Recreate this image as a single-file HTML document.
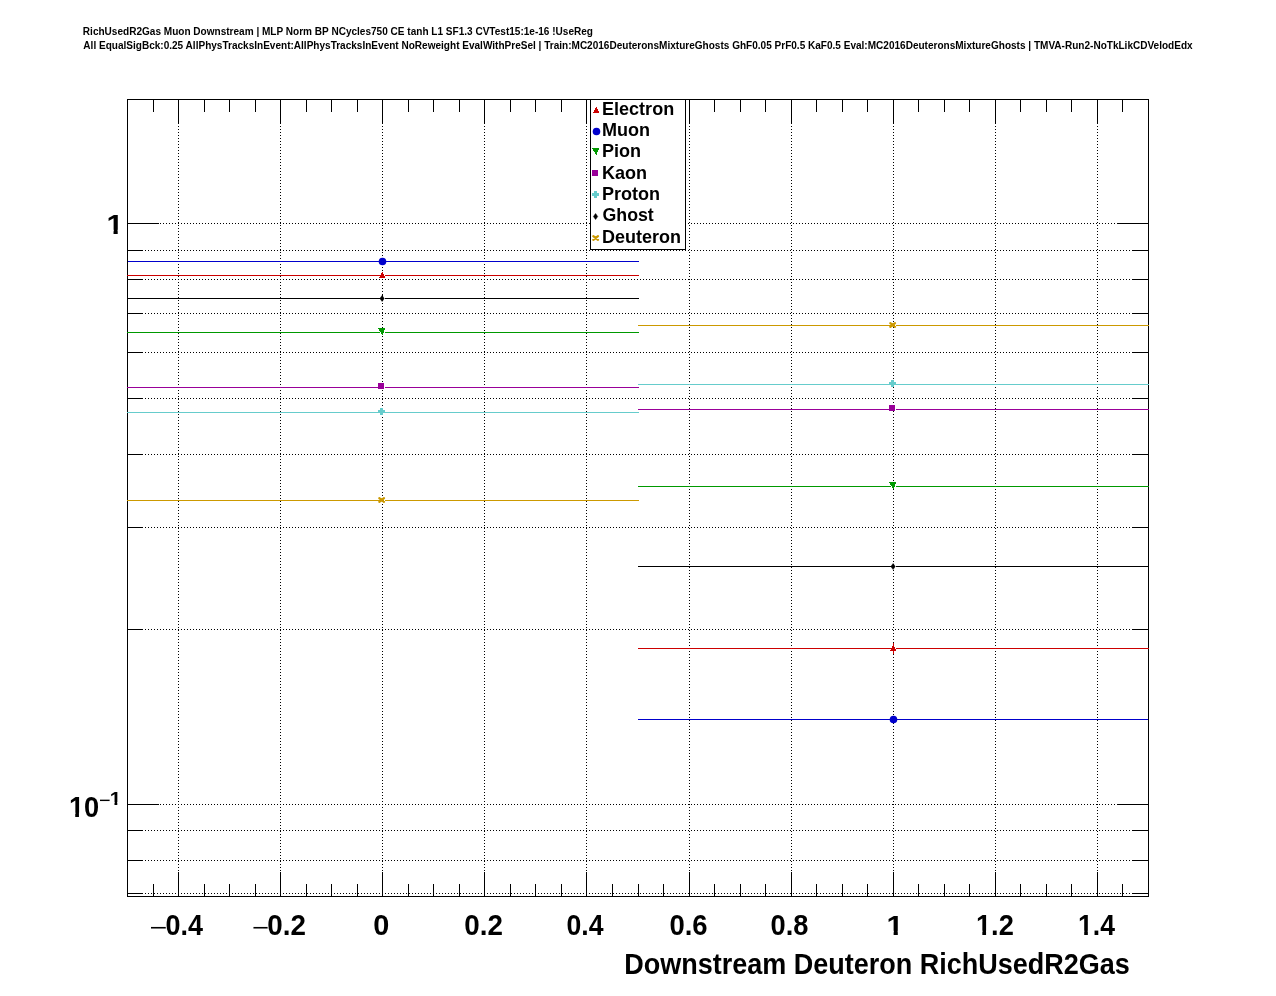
<!DOCTYPE html>
<html lang="en"><head><meta charset="utf-8"><title>RichUsedR2Gas Muon Downstream</title>
<style>html,body{margin:0;padding:0;background:#fff}body{width:1276px;height:996px;overflow:hidden}svg{display:block;will-change:transform}text{font-family:"Liberation Sans",Arial,Helvetica,sans-serif;font-weight:bold;fill:#000}</style>
</head><body>
<svg width="1276" height="996" viewBox="0 0 1276 996">
<rect width="1276" height="996" fill="#fff"/>
<g shape-rendering="crispEdges" stroke="#000" stroke-width="1" stroke-dasharray="1 2" fill="none">
<line x1="178.5" y1="99" x2="178.5" y2="897"/>
<line x1="280.5" y1="99" x2="280.5" y2="897"/>
<line x1="382.5" y1="99" x2="382.5" y2="897"/>
<line x1="484.5" y1="99" x2="484.5" y2="897"/>
<line x1="586.5" y1="99" x2="586.5" y2="897"/>
<line x1="689.5" y1="99" x2="689.5" y2="897"/>
<line x1="791.5" y1="99" x2="791.5" y2="897"/>
<line x1="893.5" y1="99" x2="893.5" y2="897"/>
<line x1="995.5" y1="99" x2="995.5" y2="897"/>
<line x1="1097.5" y1="99" x2="1097.5" y2="897"/>
<line x1="127" y1="223.5" x2="1149" y2="223.5"/>
<line x1="127" y1="250.5" x2="1149" y2="250.5"/>
<line x1="127" y1="279.5" x2="1149" y2="279.5"/>
<line x1="127" y1="313.5" x2="1149" y2="313.5"/>
<line x1="127" y1="352.5" x2="1149" y2="352.5"/>
<line x1="127" y1="398.5" x2="1149" y2="398.5"/>
<line x1="127" y1="454.5" x2="1149" y2="454.5"/>
<line x1="127" y1="527.5" x2="1149" y2="527.5"/>
<line x1="127" y1="629.5" x2="1149" y2="629.5"/>
<line x1="127" y1="804.5" x2="1149" y2="804.5"/>
<line x1="127" y1="830.5" x2="1149" y2="830.5"/>
<line x1="127" y1="860.5" x2="1149" y2="860.5"/>
<line x1="127" y1="893.5" x2="1149" y2="893.5"/>
</g>
<g shape-rendering="crispEdges" fill="#000">
<rect x="127" y="99" width="1022" height="1"/>
<rect x="127" y="896" width="1022" height="1"/>
<rect x="127" y="99" width="1" height="798"/>
<rect x="1148" y="99" width="1" height="798"/>
<rect x="153" y="99" width="1" height="13"/>
<rect x="153" y="884" width="1" height="13"/>
<rect x="178" y="99" width="1" height="25"/>
<rect x="178" y="872" width="1" height="25"/>
<rect x="204" y="99" width="1" height="13"/>
<rect x="204" y="884" width="1" height="13"/>
<rect x="229" y="99" width="1" height="13"/>
<rect x="229" y="884" width="1" height="13"/>
<rect x="255" y="99" width="1" height="13"/>
<rect x="255" y="884" width="1" height="13"/>
<rect x="280" y="99" width="1" height="25"/>
<rect x="280" y="872" width="1" height="25"/>
<rect x="306" y="99" width="1" height="13"/>
<rect x="306" y="884" width="1" height="13"/>
<rect x="331" y="99" width="1" height="13"/>
<rect x="331" y="884" width="1" height="13"/>
<rect x="357" y="99" width="1" height="13"/>
<rect x="357" y="884" width="1" height="13"/>
<rect x="382" y="99" width="1" height="25"/>
<rect x="382" y="872" width="1" height="25"/>
<rect x="408" y="99" width="1" height="13"/>
<rect x="408" y="884" width="1" height="13"/>
<rect x="433" y="99" width="1" height="13"/>
<rect x="433" y="884" width="1" height="13"/>
<rect x="459" y="99" width="1" height="13"/>
<rect x="459" y="884" width="1" height="13"/>
<rect x="484" y="99" width="1" height="25"/>
<rect x="484" y="872" width="1" height="25"/>
<rect x="510" y="99" width="1" height="13"/>
<rect x="510" y="884" width="1" height="13"/>
<rect x="535" y="99" width="1" height="13"/>
<rect x="535" y="884" width="1" height="13"/>
<rect x="561" y="99" width="1" height="13"/>
<rect x="561" y="884" width="1" height="13"/>
<rect x="586" y="99" width="1" height="25"/>
<rect x="586" y="872" width="1" height="25"/>
<rect x="612" y="99" width="1" height="13"/>
<rect x="612" y="884" width="1" height="13"/>
<rect x="638" y="99" width="1" height="13"/>
<rect x="638" y="884" width="1" height="13"/>
<rect x="663" y="99" width="1" height="13"/>
<rect x="663" y="884" width="1" height="13"/>
<rect x="689" y="99" width="1" height="25"/>
<rect x="689" y="872" width="1" height="25"/>
<rect x="714" y="99" width="1" height="13"/>
<rect x="714" y="884" width="1" height="13"/>
<rect x="740" y="99" width="1" height="13"/>
<rect x="740" y="884" width="1" height="13"/>
<rect x="765" y="99" width="1" height="13"/>
<rect x="765" y="884" width="1" height="13"/>
<rect x="791" y="99" width="1" height="25"/>
<rect x="791" y="872" width="1" height="25"/>
<rect x="816" y="99" width="1" height="13"/>
<rect x="816" y="884" width="1" height="13"/>
<rect x="842" y="99" width="1" height="13"/>
<rect x="842" y="884" width="1" height="13"/>
<rect x="867" y="99" width="1" height="13"/>
<rect x="867" y="884" width="1" height="13"/>
<rect x="893" y="99" width="1" height="25"/>
<rect x="893" y="872" width="1" height="25"/>
<rect x="918" y="99" width="1" height="13"/>
<rect x="918" y="884" width="1" height="13"/>
<rect x="944" y="99" width="1" height="13"/>
<rect x="944" y="884" width="1" height="13"/>
<rect x="969" y="99" width="1" height="13"/>
<rect x="969" y="884" width="1" height="13"/>
<rect x="995" y="99" width="1" height="25"/>
<rect x="995" y="872" width="1" height="25"/>
<rect x="1020" y="99" width="1" height="13"/>
<rect x="1020" y="884" width="1" height="13"/>
<rect x="1046" y="99" width="1" height="13"/>
<rect x="1046" y="884" width="1" height="13"/>
<rect x="1071" y="99" width="1" height="13"/>
<rect x="1071" y="884" width="1" height="13"/>
<rect x="1097" y="99" width="1" height="25"/>
<rect x="1097" y="872" width="1" height="25"/>
<rect x="1122" y="99" width="1" height="13"/>
<rect x="1122" y="884" width="1" height="13"/>
<rect x="127" y="223" width="32" height="1"/>
<rect x="1117" y="223" width="32" height="1"/>
<rect x="127" y="250" width="16" height="1"/>
<rect x="1133" y="250" width="16" height="1"/>
<rect x="127" y="279" width="16" height="1"/>
<rect x="1133" y="279" width="16" height="1"/>
<rect x="127" y="313" width="16" height="1"/>
<rect x="1133" y="313" width="16" height="1"/>
<rect x="127" y="352" width="16" height="1"/>
<rect x="1133" y="352" width="16" height="1"/>
<rect x="127" y="398" width="16" height="1"/>
<rect x="1133" y="398" width="16" height="1"/>
<rect x="127" y="454" width="16" height="1"/>
<rect x="1133" y="454" width="16" height="1"/>
<rect x="127" y="527" width="16" height="1"/>
<rect x="1133" y="527" width="16" height="1"/>
<rect x="127" y="629" width="16" height="1"/>
<rect x="1133" y="629" width="16" height="1"/>
<rect x="127" y="804" width="32" height="1"/>
<rect x="1117" y="804" width="32" height="1"/>
<rect x="127" y="830" width="16" height="1"/>
<rect x="1133" y="830" width="16" height="1"/>
<rect x="127" y="860" width="16" height="1"/>
<rect x="1133" y="860" width="16" height="1"/>
<rect x="127" y="893" width="16" height="1"/>
<rect x="1133" y="893" width="16" height="1"/>
</g>
<g>
<rect x="128" y="261" width="511" height="1" fill="#0000cc" shape-rendering="crispEdges"/>
<rect x="127" y="275" width="512" height="1" fill="#cc0000" shape-rendering="crispEdges"/>
<rect x="127" y="298" width="512" height="1" fill="#000000" shape-rendering="crispEdges"/>
<rect x="127" y="332" width="512" height="1" fill="#009900" shape-rendering="crispEdges"/>
<rect x="127" y="387" width="512" height="1" fill="#990099" shape-rendering="crispEdges"/>
<rect x="127" y="412" width="512" height="1" fill="#66cccc" shape-rendering="crispEdges"/>
<rect x="127" y="500" width="512" height="1" fill="#cc9900" shape-rendering="crispEdges"/>
<rect x="638" y="325" width="511" height="1" fill="#cc9900" shape-rendering="crispEdges"/>
<rect x="638" y="384" width="511" height="1" fill="#66cccc" shape-rendering="crispEdges"/>
<rect x="638" y="409" width="511" height="1" fill="#990099" shape-rendering="crispEdges"/>
<rect x="638" y="486" width="511" height="1" fill="#009900" shape-rendering="crispEdges"/>
<rect x="638" y="566" width="511" height="1" fill="#000000" shape-rendering="crispEdges"/>
<rect x="638" y="648" width="511" height="1" fill="#cc0000" shape-rendering="crispEdges"/>
<rect x="638" y="719" width="510" height="1" fill="#0000cc" shape-rendering="crispEdges"/>
<rect x="893" y="643" width="1" height="11" fill="#cc0000" shape-rendering="crispEdges"/>
<rect x="382" y="294" width="1" height="3" fill="#000" shape-rendering="crispEdges"/>
<circle cx="382.5" cy="261.5" r="3.8" fill="#0000cc"/>
<rect x="384" y="275" width="1" height="1" fill="#fff" shape-rendering="crispEdges"/>
<path d="M382.3 271.8L385.6 278L378.8 278Z" fill="#cc0000" shape-rendering="crispEdges"/>
<rect x="384" y="298" width="1" height="1" fill="#fff" shape-rendering="crispEdges"/>
<path d="M382.1 295.5L384.2 298.5L382.1 301.5L379.9 298.5Z" fill="#000000" stroke="#000000" stroke-width="0.5" stroke-linejoin="round"/>
<rect x="384" y="332" width="1" height="1" fill="#fff" shape-rendering="crispEdges"/>
<rect x="380" y="332" width="1" height="1" fill="#fff" shape-rendering="crispEdges"/>
<path d="M378 328L385.5 328L382.3 335.2Z" fill="#009900" shape-rendering="crispEdges"/>
<rect x="384" y="387" width="1" height="1" fill="#fff" shape-rendering="crispEdges"/>
<rect x="378" y="383" width="6" height="6" fill="#990099" shape-rendering="crispEdges"/>
<path d="M380 408h3v2h2v3h-2v2h-3v-2h-2v-3h2z" fill="#66cccc" shape-rendering="crispEdges"/>
<rect x="384" y="500" width="1" height="1" fill="#fff" shape-rendering="crispEdges"/>
<path d="M379.3 498.1L384.0 501.9M384.0 498.1L379.3 501.9" stroke="#cc9900" stroke-width="2.3" stroke-linecap="round" fill="none"/>
<rect x="895" y="325" width="1" height="1" fill="#fff" shape-rendering="crispEdges"/>
<path d="M890.3 323.1L895.0 326.9M895.0 323.1L890.3 326.9" stroke="#cc9900" stroke-width="2.3" stroke-linecap="round" fill="none"/>
<path d="M891 380h3v2h2v3h-2v2h-3v-2h-2v-3h2z" fill="#66cccc" shape-rendering="crispEdges"/>
<rect x="895" y="409" width="1" height="1" fill="#fff" shape-rendering="crispEdges"/>
<rect x="889" y="405" width="6" height="6" fill="#990099" shape-rendering="crispEdges"/>
<rect x="895" y="486" width="1" height="1" fill="#fff" shape-rendering="crispEdges"/>
<rect x="891" y="486" width="1" height="1" fill="#fff" shape-rendering="crispEdges"/>
<path d="M889 482L896.5 482L893.3 489.2Z" fill="#009900" shape-rendering="crispEdges"/>
<rect x="895" y="566" width="1" height="1" fill="#fff" shape-rendering="crispEdges"/>
<path d="M893.1 563.5L895.2 566.5L893.1 569.5L890.9 566.5Z" fill="#000000" stroke="#000000" stroke-width="0.5" stroke-linejoin="round"/>
<rect x="895" y="648" width="1" height="1" fill="#fff" shape-rendering="crispEdges"/>
<path d="M893.3 644.8L896.6 651L889.8 651Z" fill="#cc0000" shape-rendering="crispEdges"/>
<circle cx="893.5" cy="719.5" r="3.8" fill="#0000cc"/>
</g>
<g>
<rect x="590.5" y="99.5" width="95" height="150" fill="#fff" stroke="#000" stroke-width="1" shape-rendering="crispEdges"/>
<path d="M596.3 106.8L599.6 113L592.8 113Z" fill="#cc0000" shape-rendering="crispEdges"/>
<circle cx="596.5" cy="131.5" r="3.8" fill="#0000cc"/>
<path d="M592 148L599.5 148L596.3 155.2Z" fill="#009900" shape-rendering="crispEdges"/>
<rect x="592" y="170" width="6" height="6" fill="#990099" shape-rendering="crispEdges"/>
<path d="M594 191h3v2h2v3h-2v2h-3v-2h-2v-3h2z" fill="#66cccc" shape-rendering="crispEdges"/>
<path d="M595.6 213.5L597.7 216.5L595.6 219.5L593.4 216.5Z" fill="#000000" stroke="#000000" stroke-width="0.5" stroke-linejoin="round"/>
<path d="M593.3 236.1L598.0 239.9M598.0 236.1L593.3 239.9" stroke="#cc9900" stroke-width="2.3" stroke-linecap="round" fill="none"/>
</g>
<text transform="translate(82.85 35.00) scale(1.0055 1.0)" font-size="10.0">RichUsedR2Gas Muon Downstream | MLP Norm BP NCycles750 CE tanh L1 SF1.3 CVTest15:1e-16 !UseReg</text>
<text transform="translate(83.35 49.00) scale(1.0042 1.0)" font-size="10.0">All EqualSigBck:0.25 AllPhysTracksInEvent:AllPhysTracksInEvent NoReweight EvalWithPreSel | Train:MC2016DeuteronsMixtureGhosts GhF0.05 PrF0.5 KaF0.5 Eval:MC2016DeuteronsMixtureGhosts | TMVA-Run2-NoTkLikCDVelodEdx</text>
<text transform="translate(624.14 974.00) scale(0.9315 1.0)" font-size="29">Downstream Deuteron RichUsedR2Gas</text>
<text transform="translate(165.46 935.00) scale(0.9139 1.0)" font-size="29.5">0.4</text>
<text transform="translate(267.32 935.00) scale(0.9429 1.0)" font-size="29.5">0.2</text>
<text transform="translate(373.18 935.00) scale(0.9786 1.0)" font-size="29.5">0</text>
<text transform="translate(464.22 935.00) scale(0.9429 1.0)" font-size="29.5">0.2</text>
<text transform="translate(566.57 935.00) scale(0.9013 1.0)" font-size="29.5">0.4</text>
<text transform="translate(669.44 935.00) scale(0.9316 1.0)" font-size="29.5">0.6</text>
<text transform="translate(770.55 935.00) scale(0.9239 1.0)" font-size="29.5">0.8</text>
<g transform="translate(886.53 935.00) scale(1.0803 1.0)"><text font-size="28.2">1</text><rect x="0.85" y="-4.23" width="5.72" height="5.64" fill="#fff"/><rect x="10.43" y="-4.23" width="5.64" height="5.64" fill="#fff"/></g>
<g transform="translate(975.98 935.00) scale(0.9237 1.0)"><text font-size="29.5">1.2</text><rect x="0.89" y="-4.42" width="5.99" height="5.90" fill="#fff"/><rect x="10.91" y="-4.42" width="5.90" height="5.90" fill="#fff"/></g>
<g transform="translate(1078.02 935.00) scale(0.9000 1.0)"><text font-size="29.5">1.4</text><rect x="0.89" y="-4.42" width="5.99" height="5.90" fill="#fff"/><rect x="10.91" y="-4.42" width="5.90" height="5.90" fill="#fff"/></g>
<text transform="translate(149.48 935.00) scale(1.0138 0.75)" font-size="30" style="font-weight:normal">−</text>
<text transform="translate(252.04 935.00) scale(0.9724 0.75)" font-size="30" style="font-weight:normal">−</text>
<g transform="translate(106.43 234.00) scale(1.0803 1.0)"><text font-size="28.2">1</text><rect x="0.85" y="-4.23" width="5.72" height="5.64" fill="#fff"/><rect x="10.43" y="-4.23" width="5.64" height="5.64" fill="#fff"/></g>
<g transform="translate(68.88 817.00) scale(0.9233 1.0)"><text font-size="29.5">10</text><rect x="0.89" y="-4.42" width="5.99" height="5.90" fill="#fff"/><rect x="10.91" y="-4.42" width="5.90" height="5.90" fill="#fff"/></g>
<text transform="translate(99.11 807.00) scale(0.9949 1.0)" font-size="20" style="font-weight:normal">−</text>
<g transform="translate(109.70 805.00) scale(1.0693 1.0)"><text font-size="19.2">1</text><rect x="0.58" y="-2.88" width="3.90" height="3.84" fill="#fff"/><rect x="7.10" y="-2.88" width="3.84" height="3.84" fill="#fff"/></g>
<text transform="translate(602.01 115.00) scale(0.9497 1.0)" font-size="19">Electron</text>
<text transform="translate(602.01 136.00) scale(0.9492 1.0)" font-size="19">Muon</text>
<text transform="translate(602.01 157.00) scale(0.9500 1.0)" font-size="19">Pion</text>
<text transform="translate(602.01 179.00) scale(0.9500 1.0)" font-size="19">Kaon</text>
<text transform="translate(602.01 200.00) scale(0.9500 1.0)" font-size="19">Proton</text>
<text transform="translate(602.50 221.00) scale(0.9352 1.0)" font-size="19">Ghost</text>
<text transform="translate(602.01 243.00) scale(0.9481 1.0)" font-size="19">Deuteron</text>
</svg></body></html>
